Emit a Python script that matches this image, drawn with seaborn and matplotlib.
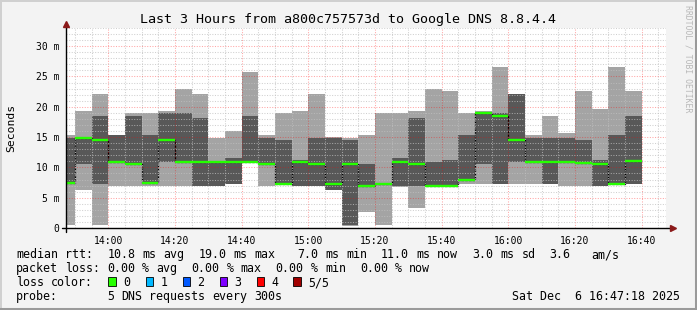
import re
import numpy as np
import matplotlib
matplotlib.use("Agg")
import matplotlib.pyplot as plt
from matplotlib.patches import Rectangle
from matplotlib.lines import Line2D
import seaborn as sns

# ---------------- data (5-minute intervals, end time of each interval) ----------------
interval_end = ["13:50", "13:55", "14:00", "14:05", "14:10", "14:15", "14:20",
                "14:25", "14:30", "14:35", "14:40", "14:45", "14:50", "14:55",
                "15:00", "15:05", "15:10", "15:15", "15:20", "15:25", "15:30",
                "15:35", "15:40", "15:45", "15:50", "15:55", "16:00", "16:05",
                "16:10", "16:15", "16:20", "16:25", "16:30", "16:35", "16:40"]
# sorted ping rtt values of the 5 probes (ms)
ping_min = [0.5, 6.3, 0.5, 6.9, 6.9, 6.9, 6.9, 6.9, 6.9, 6.9, 7.25, 10.8, 6.9, 7.2,
            6.9, 6.9, 6.3, 0.3, 2.7, 0.5, 6.7, 3.35, 6.9, 6.9, 7.2, 7.25, 7.2, 7.25,
            7.25, 7.25, 6.9, 6.9, 6.9, 7.2, 7.2]
ping_p2 = [7.4, 10.5, 7.25, 10.8, 10.4, 7.4, 10.9, 10.8, 7.0, 6.9, 7.25, 10.8, 10.4, 7.2,
           6.9, 6.9, 6.3, 0.5, 6.8, 7.1, 6.9, 6.9, 6.95, 6.95, 7.8, 10.5, 7.25, 10.9,
           10.8, 7.3, 10.8, 10.7, 6.9, 7.2, 7.25]
median = [7.5, 14.9, 14.6, 10.9, 10.5, 7.5, 14.6, 10.9, 10.9, 10.9, 10.9, 10.9, 10.5, 7.25,
          10.9, 10.5, 7.25, 10.5, 7.0, 7.2, 10.9, 10.5, 7.0, 7.0, 7.9, 19.0, 18.5, 14.6,
          10.9, 10.9, 10.9, 10.8, 10.5, 7.25, 11.0]
ping_p4 = [14.9, 14.9, 18.5, 15.3, 18.5, 15.3, 19.0, 19.0, 18.1, 10.9, 11.5, 18.5, 14.9, 14.6,
           11.2, 14.9, 14.9, 14.5, 10.5, 7.4, 11.5, 18.1, 10.9, 11.2, 15.3, 19.0, 19.0, 22.1,
           14.9, 14.9, 14.9, 14.5, 11.2, 15.3, 18.5]
ping_max = [15.3, 19.3, 22.1, 15.35, 19.0, 19.0, 19.3, 22.9, 22.1, 14.9, 16.0, 25.7, 15.3, 19.0,
            19.3, 22.1, 14.95, 14.9, 15.3, 19.0, 19.0, 19.3, 22.9, 22.6, 19.0, 19.3, 26.6, 22.15,
            15.3, 18.5, 15.7, 22.6, 19.6, 26.6, 22.6]

x_tick_labels = ["14:00", "14:20", "14:40", "15:00", "15:20", "15:40", "16:00", "16:20", "16:40"]
y_tick_values = [0, 5, 10, 15, 20, 25, 30]
y_tick_labels = ["0", "5 m", "10 m", "15 m", "20 m", "25 m", "30 m"]
loss_labels = ["0", "1", "2", "3", "4", "5/5"]
loss_colors = ["#26ff00", "#00b8ff", "#0059ff", "#7e00ff", "#ff0000", "#a10000"]

title = "Last 3 Hours from a800c757573d to Google DNS 8.8.4.4"
legend_lines = [
    "median rtt:  10.8 ms avg  19.0 ms max   7.0 ms min  11.0 ms now  3.0 ms sd  3.6   am/s",
    "packet loss: 0.00 % avg  0.00 % max  0.00 % min  0.00 % now",
    "loss color:",
    "probe:       5 DNS requests every 300s",
]
date_text = "Sat Dec  6 16:47:18 2025"
start_time, end_time = "13:47:18", "16:47:18"


def to_min(s):
    parts = [int(p) for p in s.split(":")]
    while len(parts) < 3:
        parts.append(0)
    return parts[0] * 60 + parts[1] + parts[2] / 60.0


# ---------------- figure ----------------
sns.set_theme(style="white")
plt.rcParams['font.family'] = ['DejaVu Sans Mono', 'DejaVu Sans']

W, H = 697, 310
BG = "#f3f3f3"
fig = plt.figure(figsize=(W / 100, H / 100), dpi=100, facecolor=BG)


def fx(px):
    return px / W


def fy(py):
    return 1 - py / H


ax = fig.add_axes([fx(66), fy(228), 600 / W, 200 / H])
ax.set_facecolor("white")

ends = np.array([to_min(t) for t in interval_end])
starts = ends - 5
xs = np.append(starts, ends[-1])


def ext(a):
    a = np.asarray(a, dtype=float)
    return np.append(a, a[-1])


ax.fill_between(xs, ext(ping_min), ext(ping_max), step="post", color="#a4a4a4",
                lw=0, zorder=1)
ax.fill_between(xs, ext(ping_p2), ext(ping_p4), step="post", color="#585858",
                lw=0, zorder=1.1)
sns.lineplot(x=xs, y=ext(median), drawstyle="steps-post", color="#000000", lw=0.9,
             ls=(0, (2, 1)), ax=ax, zorder=2, legend=False)
ax.hlines(median, starts, ends, colors=loss_colors[0], lw=1.7, zorder=3)

xmin, xmax = to_min(start_time), to_min(end_time)
ax.set_xlim(xmin, xmax)
ax.set_ylim(0, 33)

ax.set_xticks([to_min(t) for t in x_tick_labels])
ax.set_xticklabels(x_tick_labels)
ax.set_xticks(np.arange(830, 1006, 5), minor=True)
ax.set_yticks(y_tick_values)
ax.set_yticklabels(y_tick_labels)
ax.set_yticks(np.arange(0, 34, 1), minor=True)

ax.set_axisbelow(False)
ax.grid(which="minor", color="#c0c0c0", alpha=0.75, lw=0.75, ls=(0, (1, 1.5)))
ax.grid(which="major", color="#ff0000", alpha=0.35, lw=0.75, ls=(0, (1, 1.5)))

ax.tick_params(axis="both", which="major", length=2.5, width=0.7, color="#333333",
               labelsize=7, pad=2, labelcolor="#000000")
ax.tick_params(axis="both", which="minor", length=1.2, width=0.6, color="#888888")
ax.tick_params(axis="x", which="major", pad=3)
for sp in ax.spines.values():
    sp.set_visible(False)
ax.set_xlabel("")
ax.set_ylabel("")

fig.text(fx(11), fy(128), "Seconds", rotation=90, ha="center", va="center",
         fontsize=8.2, color="#000000")

# axis lines with arrows
ax.add_line(Line2D([(62 - 66) / 600, (672 - 66) / 600], [0, 0], transform=ax.transAxes,
                   color="black", lw=1.0, clip_on=False, zorder=4))
ax.add_line(Line2D([0, 0], [(228 - 232) / 200, (228 - 26) / 200], transform=ax.transAxes,
                   color="black", lw=1.0, clip_on=False, zorder=4))
ax.plot([(673 - 66) / 600], [0], marker=">", ms=4, color="#8b1a1a", mec="#8b1a1a",
        transform=ax.transAxes, clip_on=False, zorder=5)
ax.plot([0], [(228 - 24) / 200], marker="^", ms=4, color="#8b1a1a", mec="#8b1a1a",
        transform=ax.transAxes, clip_on=False, zorder=5)

# title
fig.text(fx(348.5), fy(23), title, ha="center", va="baseline", fontsize=9.6,
         color="#000000")


# legend: monospace grid of 7.02 px per character
CW = 7.02


def mono_text(x0, y, s, **kw):
    for m in re.finditer(r"\S+", s):
        fig.text(fx(x0 + m.start() * CW), fy(y), m.group(), ha="left", va="baseline", **kw)


baselines = [258, 272, 286, 300]
for line, b in zip(legend_lines, baselines):
    mono_text(16, b, line, fontsize=8.4, color="#000000")

box_x = [108.3, 145.5, 182.5, 219.5, 256.5, 293.3]
for lbl, col, bx in zip(loss_labels, loss_colors, box_x):
    fig.patches.append(Rectangle((fx(bx), fy(286)), 7.5 / W, 9 / H, transform=fig.transFigure,
                                 facecolor=col, edgecolor="black", lw=0.6))
    fig.text(fx(bx + 15), fy(286), lbl, ha="left", va="baseline", fontsize=8.4,
             color="#000000")

fig.text(fx(680), fy(300), date_text, ha="right", va="baseline", fontsize=8.4,
         color="#000000")

# watermark
fig.text(fx(688), fy(5), "RRDTOOL / TOBI OETIKER", rotation=270, ha="center", va="top",
         fontsize=5.9, color="#b8b8b8")

# frame
fig.add_artist(Line2D([fx(0.5), fx(0.5)], [fy(0), fy(310)], transform=fig.transFigure,
                      color="#d0d0d0", lw=1.4))
fig.add_artist(Line2D([fx(0), fx(697)], [fy(0.5), fy(0.5)], transform=fig.transFigure,
                      color="#d0d0d0", lw=1.4))
fig.add_artist(Line2D([fx(695.5), fx(695.5)], [fy(0), fy(310)], transform=fig.transFigure,
                      color="#9a9a9a", lw=2.2))
fig.add_artist(Line2D([fx(0), fx(697)], [fy(308.5), fy(308.5)], transform=fig.transFigure,
                      color="#9a9a9a", lw=2.2))

fig.savefig("out.png", dpi=100, facecolor=BG)
